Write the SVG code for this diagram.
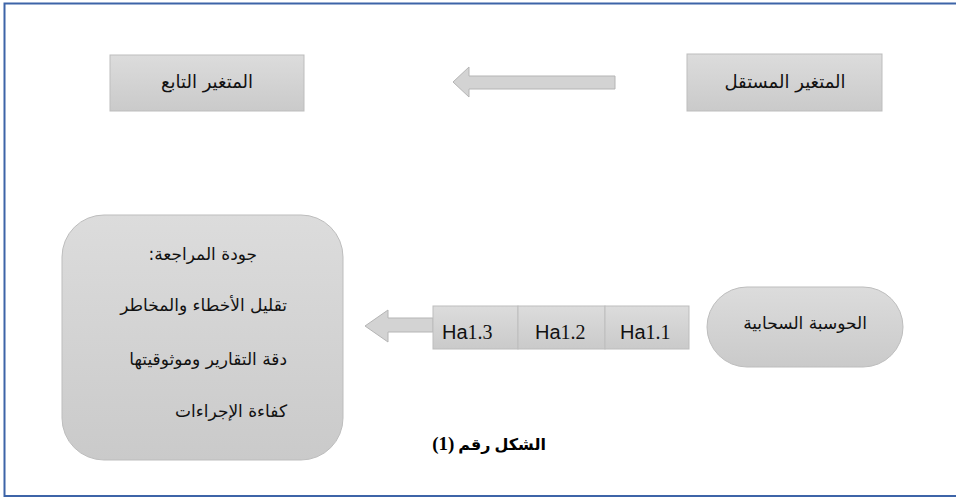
<svg xmlns="http://www.w3.org/2000/svg" width="956" height="498" viewBox="0 0 956 498">
<defs>
<linearGradient id="g" x1="0" y1="0" x2="0" y2="1">
<stop offset="0" stop-color="#dcdcdc"/>
<stop offset="1" stop-color="#cacaca"/>
</linearGradient>
<style>
.box{fill:url(#g);stroke:#bdbdbd;stroke-width:1}
.ar{font-family:"DejaVu Sans",sans-serif;font-size:17px;fill:#111;direction:rtl}
.big{font-size:18px}
.ha{font-family:"Liberation Serif",serif;font-size:20px;fill:#111}
.sans{font-family:"Liberation Sans",sans-serif}
.arrow{fill:#d3d3d3;stroke:#b5b5b5;stroke-width:1}
</style>
</defs>
<rect x="0" y="0" width="956" height="498" fill="#fff"/>
<rect x="4.5" y="3.5" width="960" height="492.5" fill="none" stroke="#3d64a8" stroke-width="2"/>

<g id="connectors">
<path class="arrow" d="M615,76 L469,76 L469,67 L453,82 L469,97 L469,89 L615,89 Z"/>
<path class="arrow" d="M433,318 L388,318 L388,310 L365,326 L388,342 L388,332 L433,332 Z"/>
</g>

<g id="dependent">
<rect class="box" x="110" y="55" width="194" height="56"/>
<text class="ar big" x="207" y="88" text-anchor="middle">المتغير التابع</text>
</g>

<g id="independent">
<rect class="box" x="687" y="54" width="195" height="57"/>
<text class="ar big" x="785" y="88" text-anchor="middle">المتغير المستقل</text>
</g>

<g id="audit-quality">
<rect class="box" x="62" y="215" width="281" height="245" rx="42" ry="42"/>
<text class="ar" x="257" y="260" text-anchor="start">جودة المراجعة:</text>
<text class="ar" x="287" y="311" text-anchor="start">تقليل الأخطاء والمخاطر</text>
<text class="ar" x="287" y="365" text-anchor="start">دقة التقارير وموثوقيتها</text>
<text class="ar" x="287" y="417" text-anchor="start">كفاءة الإجراءات</text>
</g>

<g id="ha13">
<rect class="box" x="433" y="306" width="85" height="43"/>
<text class="ha" x="442" y="339"><tspan class="sans">Ha</tspan>1.3</text>
</g>
<g id="ha12">
<rect class="box" x="518" y="306" width="87" height="43"/>
<text class="ha" x="535" y="339"><tspan class="sans">Ha</tspan>1.2</text>
</g>
<g id="ha11">
<rect class="box" x="605" y="306" width="84" height="43"/>
<text class="ha" x="620" y="339"><tspan class="sans">Ha</tspan>1.1</text>
</g>

<g id="cloud">
<rect class="box" x="707" y="287" width="196" height="80" rx="40" ry="40"/>
<text class="ar" x="805" y="329" text-anchor="middle">الحوسبة السحابية</text>
</g>

<g id="caption">
<text x="489" y="450" text-anchor="middle" direction="rtl" font-family="'Liberation Serif','DejaVu Sans',serif" font-size="16" font-weight="bold" fill="#000">الشكل رقم <tspan font-size="19">(1)</tspan></text>
</g>
</svg>
